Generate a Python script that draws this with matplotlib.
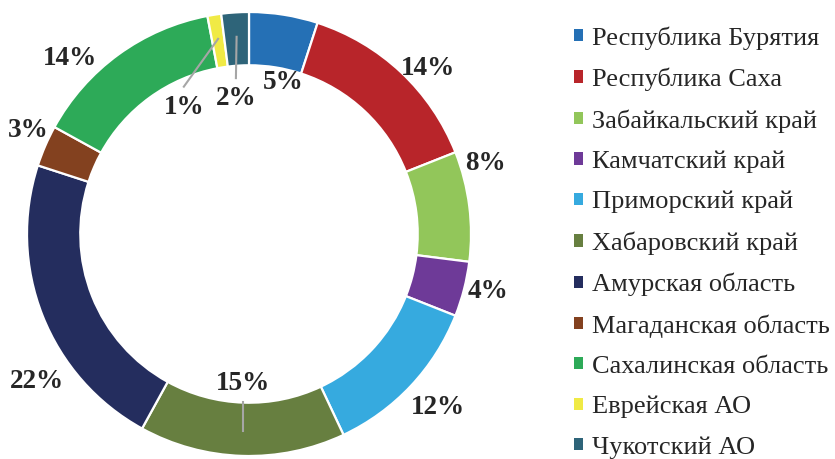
import numpy as np
import matplotlib
matplotlib.use("Agg")
import matplotlib.pyplot as plt
from matplotlib.patches import Patch

# data
regions = ["Республика Бурятия", "Республика Саха", "Забайкальский край",
           "Камчатский край", "Приморский край", "Хабаровский край",
           "Амурская область", "Магаданская область", "Сахалинская область",
           "Еврейская АО", "Чукотский АО"]
shares = [5, 14, 8, 4, 12, 15, 22, 3, 14, 1, 2]
colors = ["#2570B5", "#B8252A", "#92C65A", "#6E3A98", "#36AADF", "#677F40",
          "#242D5E", "#83411F", "#2DAA58", "#F0EA45", "#2E6479"]

# label placement (radius, angle in degrees), leader line offset (0 = none)
label_pos = [(0.70, 77.4), (1.10, 42.8), (1.11, 16.7), (1.108, -13.6),
             (1.154, -42.5), (0.672, -92.3), (1.165, 214.9), (1.10, 154.8),
             (1.13, 135.5), (0.64, 117.3), (0.615, 95.5)]
leader_dy = [0, 0, 0, 0, 0, -0.085, 0, 0, 0, 0.095, 0.09]

plt.rcParams['font.family'] = ['Liberation Serif', 'DejaVu Serif']

fig = plt.figure(figsize=(8.35, 4.59), dpi=100)
ax = fig.add_axes([0, 0, 1, 1])

wedges, _ = ax.pie(shares, colors=colors, startangle=90, counterclock=False,
                   radius=1.0,
                   wedgeprops=dict(width=0.24, edgecolor="white", linewidth=1.6))

total = float(sum(shares))
cum = 0.0
for i, v in enumerate(shares):
    mid = np.radians(90 - 360 * (cum + v / 2) / total)
    cum += v
    r, a = label_pos[i]
    tx, ty = r * np.cos(np.radians(a)), r * np.sin(np.radians(a))
    ax.text(tx, ty, "{}%".format(v), ha="center", va="center",
            fontsize=19.6, fontweight="bold", color="#262626")
    if leader_dy[i]:
        ex, ey = 0.89 * np.cos(mid), 0.89 * np.sin(mid)
        if leader_dy[i] < 0:
            ex = tx  # straight down into the wedge
        ax.plot([tx, ex], [ty + leader_dy[i], ey],
                color="#A6A6A6", lw=1.5, zorder=3)

ax.set_xlim(-249 / 222, (835 - 249) / 222)
ax.set_ylim(-(459 - 234) / 222, 234 / 222)
ax.set_aspect("auto")
ax.axis("off")

handles = [Patch(facecolor=c, edgecolor="none") for c in colors]
leg = fig.legend(handles, regions, loc="upper left", bbox_to_anchor=(0.6874, 0.943),
                 frameon=False, fontsize=19, handlelength=0.34, handleheight=0.34,
                 handletextpad=0.34, labelspacing=0.68, borderaxespad=0, borderpad=0)
for t in leg.get_texts():
    t.set_color("#262626")

fig.savefig("out.png", dpi=100)
